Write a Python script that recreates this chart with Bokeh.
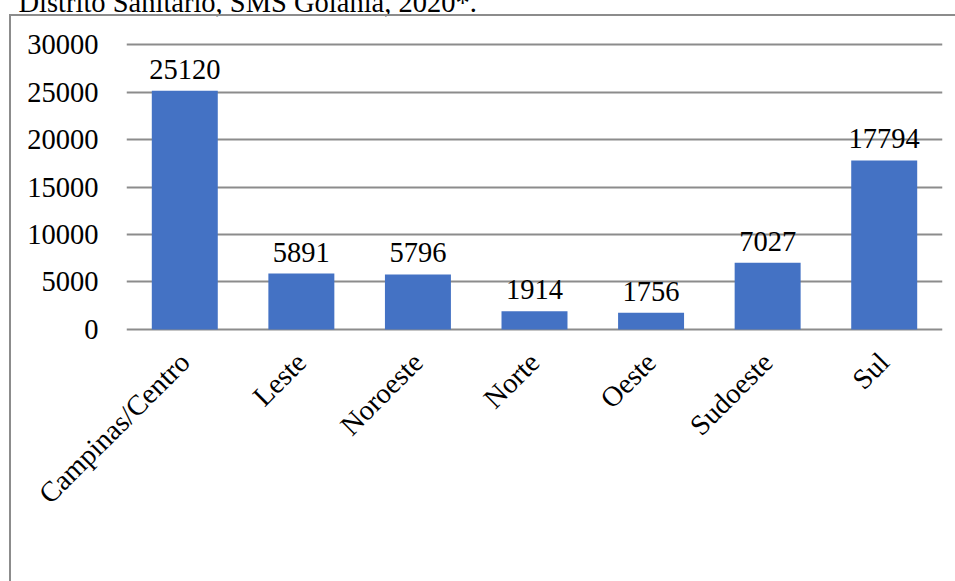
from math import pi
from bokeh.plotting import figure
from bokeh.models import (ColumnDataSource, LabelSet, Legend, LegendItem,
                          Range1d, FixedTicker, NumeralTickFormatter,
                          InlineStyleSheet, GlobalInlineStyleSheet)
from bokeh.embed import file_html
from bokeh.resources import INLINE

categories = ["Campinas/Centro", "Leste", "Noroeste", "Norte", "Oeste", "Sudoeste", "Sul"]
values = [25120, 5891, 5796, 1914, 1756, 7027, 17794]
y_ticks = [0, 5000, 10000, 15000, 20000, 25000, 30000]
series_name = "Total de Atendimentos Ofertados"
title_text = "Distrito Sanitário, SMS Goiânia, 2020*."

FONT = "Liberation Serif"
FS = "28.5px"
BAR = "#4472C4"
GRID = "#8c8c8c"

src = ColumnDataSource(dict(cat=categories, val=values, txt=[str(v) for v in values]))

box_css = InlineStyleSheet(css="""
:host { position: relative; }
:host::after {
  content: ""; position: absolute; left: 9px; top: 50px; right: 0; bottom: 0;
  border-left: 2px solid #8c8c8c; border-top: 2px solid #8c8c8c;
  pointer-events: none;
}
""")
page_css = GlobalInlineStyleSheet(css="html, body { overflow: hidden; }")

p = figure(x_range=categories, y_range=Range1d(-316, 30316),
           frame_width=816, frame_height=291,
           output_backend="svg", toolbar_location=None,
           min_border_left=126, min_border_right=13, min_border_top=55,
           min_border_bottom=0, margin=(-36, 0, 0, 0),
           stylesheets=[box_css, page_css])
p.outline_line_color = None
p.background_fill_color = "white"

p.title.text = title_text
p.title.text_font = FONT
p.title.text_font_size = FS
p.title.text_font_style = "normal"
p.title.text_color = "black"
p.title.align = "left"
p.title.offset = -108
p.title.standoff = 44
p.title.vertical_align = "top"

r = p.vbar(x="cat", top="val", bottom=0, width=0.566, source=src,
           fill_color=BAR, line_color=None)

p.xgrid.grid_line_color = None
p.ygrid.grid_line_color = GRID
p.ygrid.grid_line_width = 2
p.ygrid.ticker = FixedTicker(ticks=y_ticks)

p.yaxis.ticker = FixedTicker(ticks=y_ticks)
p.yaxis.formatter = NumeralTickFormatter(format="0")
for ax in (p.xaxis[0], p.yaxis[0]):
    ax.axis_line_color = None
    ax.major_tick_line_color = None
    ax.minor_tick_line_color = None
    ax.major_label_text_font = FONT
    ax.major_label_text_font_size = FS
    ax.major_label_text_color = "black"
p.yaxis.major_label_standoff = 22
p.xaxis.major_label_standoff = 19
p.xaxis.major_label_orientation = pi / 4

labels = LabelSet(x="cat", y="val", text="txt", source=src, y_offset=12,
                  text_align="center", text_baseline="bottom",
                  text_font=FONT, text_font_size=FS, text_color="black")
p.add_layout(labels)

legend = Legend(items=[LegendItem(label=series_name, renderers=[r])],
                location="top_center", orientation="horizontal",
                glyph_width=15, glyph_height=15, label_standoff=6,
                label_width=453,
                padding=0, margin=18, border_line_color=None,
                background_fill_alpha=0,
                label_text_font=FONT, label_text_font_size=FS)
p.add_layout(legend, "below")

open("out.html", "w").write(file_html(p, INLINE))
